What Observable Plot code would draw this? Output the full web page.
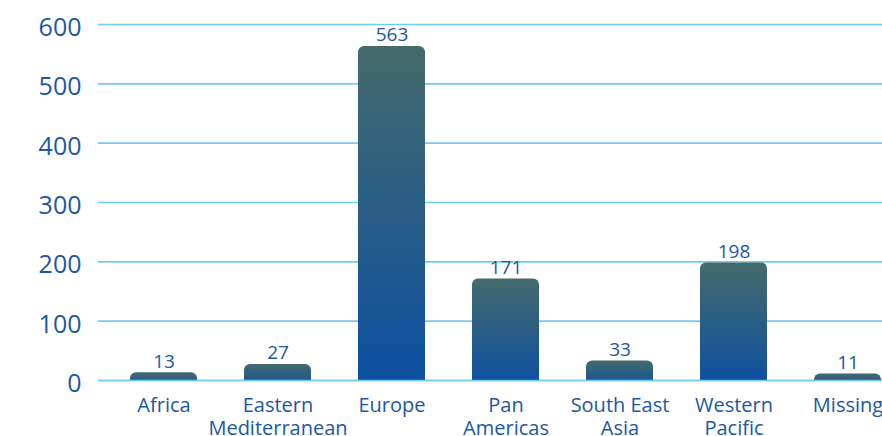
<!DOCTYPE html>
<html>
<head>
<meta charset="utf-8">
<script src="https://cdn.jsdelivr.net/npm/d3@7"></script>
<script src="https://cdn.jsdelivr.net/npm/@observablehq/plot@0.6"></script>
<style>
  html, body { margin: 0; padding: 0; background: #fff; }
  #wrap { width: 882px; height: 436px; overflow: hidden; }
  #wrap svg { max-width: none !important; height: 436px !important; }
</style>
</head>
<body>
<div id="wrap"></div>
<script>
const regions = ["Africa", "Eastern\nMediterranean", "Europe", "Pan\nAmericas", "South East\nAsia", "Western\nPacific", "Missing"];
const counts = [13, 27, 563, 171, 33, 198, 11];
const yTicks = [0, 100, 200, 300, 400, 500, 600];

const data = regions.map((r, i) => ({region: r, count: counts[i]}));
const textColor = "#1b58a5";
const gridColor = "#72caf1";
const font = "'Open Sans', Lato, sans-serif";

const plot = Plot.plot({
  width: 913,
  height: 436,
  marginLeft: 98,
  marginRight: 0,
  marginTop: 24,
  marginBottom: 56,
  style: {fontFamily: font, background: "#fff", maxWidth: "none"},
  x: {domain: regions, paddingInner: 0.41, paddingOuter: 0.25, axis: null},
  y: {domain: [0, 600], axis: null},
  marks: [
    Plot.gridY(yTicks, {stroke: gridColor, strokeOpacity: 1, strokeWidth: 1.6}),
    Plot.barY(data, {x: "region", y: "count", fill: "url(#barGrad)", rx: 6, insetBottom: -8, clip: true}),
    Plot.ruleY([0], {stroke: gridColor, strokeWidth: 1.6}),
    Plot.text(yTicks, {x: null, y: d => d, text: d => String(d), frameAnchor: "left", textAnchor: "end", dx: -17, dy: 3.5, fill: textColor, fontSize: 25}),
    Plot.text(data, {x: "region", y: "count", text: d => String(d.count), lineAnchor: "bottom", dy: -5, fill: textColor, fontSize: 19}),
    Plot.text(data, {x: "region", y: 0, text: "region", lineAnchor: "top", dy: 14.5, lineHeight: 1.165, fill: textColor, fontSize: 20})
  ]
});

const ns = "http://www.w3.org/2000/svg";
const defs = document.createElementNS(ns, "defs");
const grad = document.createElementNS(ns, "linearGradient");
grad.setAttribute("id", "barGrad");
grad.setAttribute("x1", "0"); grad.setAttribute("y1", "0");
grad.setAttribute("x2", "0"); grad.setAttribute("y2", "1");
[["0%", "#446a6b"], ["100%", "#0b4fa3"]].forEach(([o, c]) => {
  const s = document.createElementNS(ns, "stop");
  s.setAttribute("offset", o);
  s.setAttribute("stop-color", c);
  grad.appendChild(s);
});
defs.appendChild(grad);
plot.insertBefore(defs, plot.firstChild);

document.getElementById("wrap").appendChild(plot);
</script>
</body>
</html>
